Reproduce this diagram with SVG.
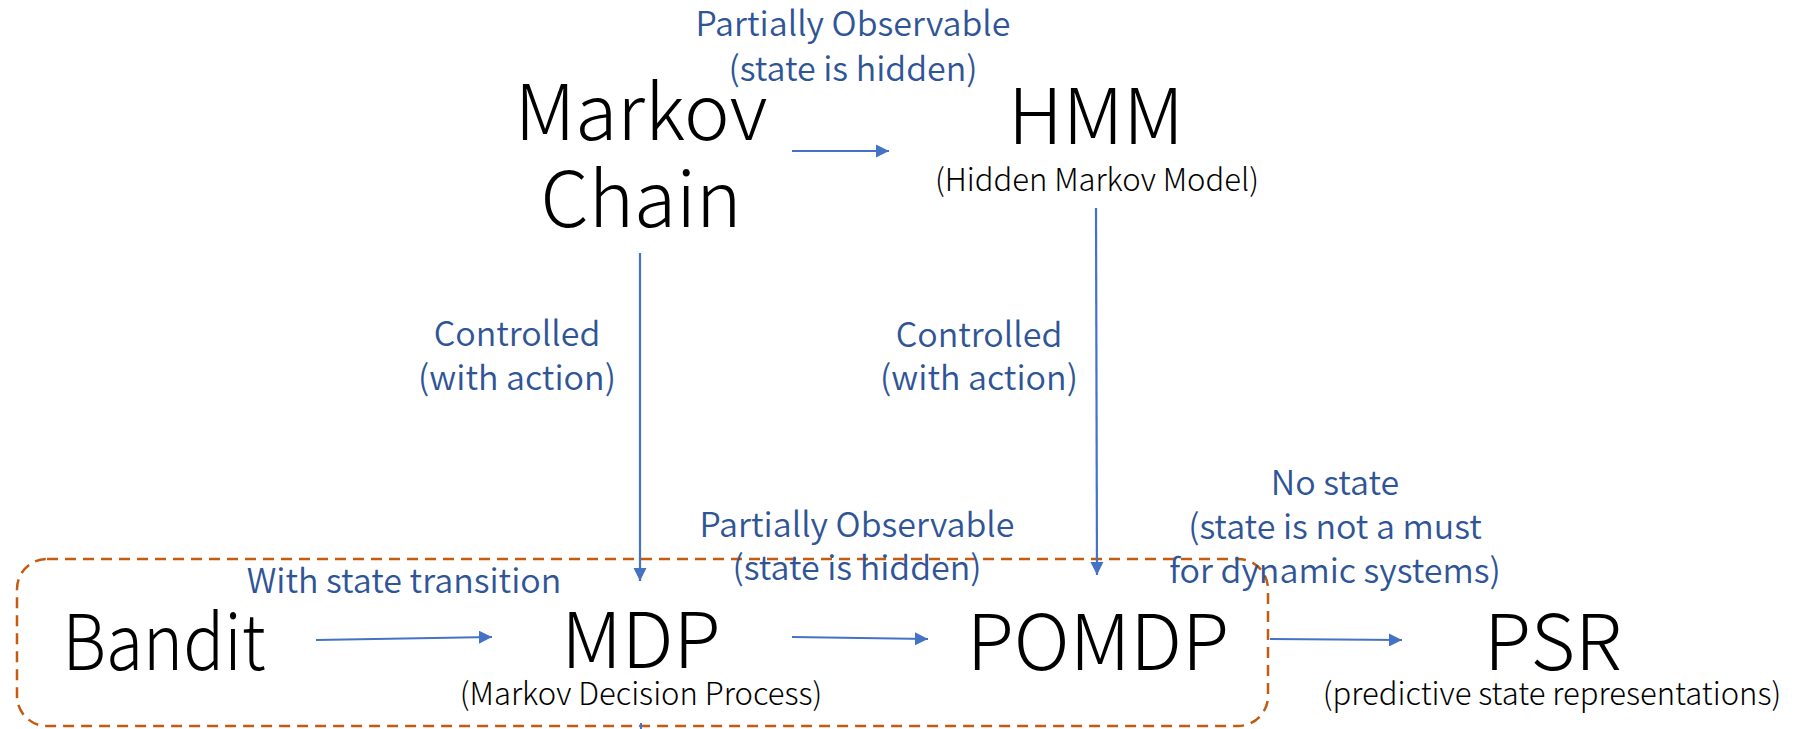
<svg xmlns="http://www.w3.org/2000/svg" width="1806" height="729" viewBox="0 0 1806 729">
<style>
text{font-family:"Noto Sans CJK SC","Noto Sans",sans-serif;text-anchor:middle}
.big{font-size:77px;font-weight:300;fill:#000}
.sub{font-size:31px;font-weight:300;fill:#000}
.lbl{font-size:34px;font-weight:350;fill:#2F5597}
.edge{stroke:#4472C4;stroke-width:2.2;fill:none;marker-end:url(#ah)}
</style>
<defs>
<marker id="ah" viewBox="0 0 10 10" refX="10" refY="5" markerWidth="6" markerHeight="6" orient="auto" markerUnits="strokeWidth">
<path d="M0,0 L10,5 L0,10 z" fill="#4472C4"/>
</marker>
</defs>
<rect width="1806" height="729" fill="#fff"/>
<rect id="group-box" x="17" y="559" width="1251" height="167" rx="30" ry="30" fill="none" stroke="#C55A11" stroke-width="2.5" stroke-dasharray="11 7"/>
<g id="connectors">
<line class="edge" x1="792" y1="151" x2="889" y2="151"/>
<line class="edge" x1="640" y1="253" x2="640" y2="581"/>
<line class="edge" x1="1096" y1="208" x2="1097" y2="575"/>
<line class="edge" x1="316" y1="640" x2="492" y2="637"/>
<line class="edge" x1="792" y1="637" x2="928" y2="639"/>
<line class="edge" x1="1270" y1="639" x2="1402" y2="640"/>
<line x1="641" y1="723" x2="641" y2="729" stroke="#4472C4" stroke-width="2"/>
</g>
<g id="labels">
<text class="lbl" x="853" y="36">Partially Observable</text>
<text class="lbl" x="853" y="81">(state is hidden)</text>
<text class="lbl" x="517" y="346">Controlled</text>
<text class="lbl" x="517" y="390">(with action)</text>
<text class="lbl" x="979" y="347">Controlled</text>
<text class="lbl" x="979" y="390">(with action)</text>
<text class="lbl" x="857" y="537">Partially Observable</text>
<text class="lbl" x="857" y="580">(state is hidden)</text>
<text class="lbl" x="1335" y="495">No state</text>
<text class="lbl" x="1335" y="539">(state is not a must</text>
<text class="lbl" x="1335" y="583">for dynamic systems)</text>
<text class="lbl" x="404" y="593">With state transition</text>
</g>
<g id="node-markov-chain">
<text class="big" x="641" y="140">Markov</text>
<text class="big" x="641" y="227">Chain</text>
</g>
<g id="node-hmm">
<text class="big" x="1096" y="144">HMM</text>
<text class="sub" x="1097" y="191">(Hidden Markov Model)</text>
</g>
<g id="node-bandit">
<text class="big" x="164" y="670" textLength="203" lengthAdjust="spacingAndGlyphs">Bandit</text>
</g>
<g id="node-mdp">
<text class="big" x="641" y="668">MDP</text>
<text class="sub" x="641" y="705">(Markov Decision Process)</text>
</g>
<g id="node-pomdp">
<text class="big" x="1098" y="670">POMDP</text>
</g>
<g id="node-psr">
<text class="big" x="1553" y="670">PSR</text>
<text class="sub" x="1552" y="705">(predictive state representations)</text>
</g>
</svg>
